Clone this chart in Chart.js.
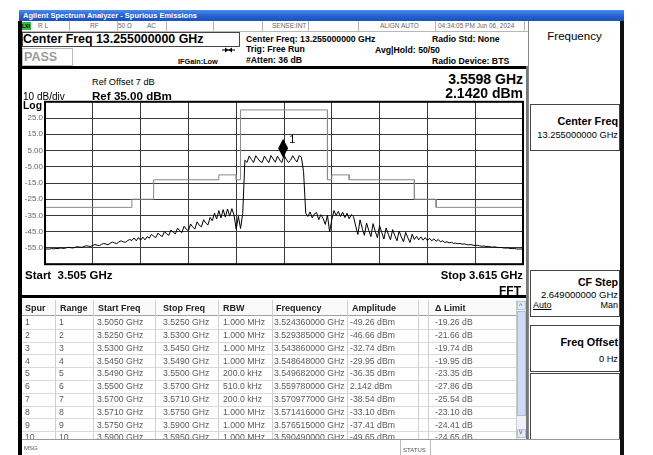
<!DOCTYPE html>
<html>
<head>
<meta charset="utf-8">
<script src="https://cdn.jsdelivr.net/npm/chart.js@4.4.1/dist/chart.umd.min.js"></script>
<style>
html,body{margin:0;padding:0;}
body{width:653px;height:455px;position:relative;overflow:hidden;background:#fff;font-family:"Liberation Sans",Arial,sans-serif;color:#000;}
.a{position:absolute;white-space:nowrap;line-height:1;}
.b{font-weight:bold;}
.r{text-align:right;}
.bx{position:absolute;box-sizing:border-box;}
.ln{position:absolute;}
</style>
</head>
<body>
<!-- window chrome -->
<div class="bx" style="left:19px;top:10px;width:605px;height:11px;background:linear-gradient(#4d8bec,#2260d2 55%,#1b52bd);"></div>
<div class="a b" style="left:23px;top:11.8px;font-size:7.5px;color:#fff;">Agilent Spectrum Analyzer - Spurious Emissions</div>

<!-- status row -->
<div class="bx" style="left:19px;top:21px;width:509px;height:11px;background:#fff;border-bottom:1px solid #b8b8b8;"></div>
<div class="bx" style="left:21px;top:22px;width:10px;height:8px;background:#39b54a;"></div>
<div class="a b" style="left:22px;top:23.5px;font-size:5px;color:#000;">LXI</div>
<div class="a" style="left:38px;top:22.8px;font-size:6.5px;color:#666;">R L</div>
<div class="a" style="left:90px;top:22.8px;font-size:6.5px;color:#666;">RF</div>
<div class="a" style="left:118px;top:22.8px;font-size:6.5px;color:#666;">50 Ω</div>
<div class="a" style="left:147px;top:22.8px;font-size:6.5px;color:#666;">AC</div>
<div class="a" style="left:272px;top:22.8px;font-size:6.5px;color:#666;">SENSE:INT</div>
<div class="a" style="left:380px;top:22.8px;font-size:6.5px;color:#666;">ALIGN AUTO</div>
<div class="a" style="left:438px;top:22.8px;font-size:6.5px;color:#666;">04:34:05 PM Jun 06, 2024</div>
<div class="ln" style="left:69px;top:21px;width:1px;height:10px;background:#b8b8b8;"></div>
<div class="ln" style="left:117px;top:21px;width:1px;height:10px;background:#b8b8b8;"></div>
<div class="ln" style="left:166px;top:21px;width:1px;height:10px;background:#b8b8b8;"></div>
<div class="ln" style="left:213px;top:21px;width:1px;height:10px;background:#b8b8b8;"></div>
<div class="ln" style="left:262px;top:21px;width:1px;height:10px;background:#b8b8b8;"></div>
<div class="ln" style="left:308px;top:21px;width:1px;height:10px;background:#b8b8b8;"></div>
<div class="ln" style="left:358px;top:21px;width:1px;height:10px;background:#b8b8b8;"></div>
<div class="ln" style="left:435px;top:21px;width:1px;height:10px;background:#b8b8b8;"></div>
<div class="ln" style="left:524px;top:21px;width:1px;height:10px;background:#b8b8b8;"></div>

<!-- header -->
<div class="bx" style="left:22px;top:32px;width:218px;height:15px;border:1px solid #444;"></div>
<div class="a b" style="left:23px;top:33.3px;font-size:12.4px;">Center Freq 13.255000000 GHz</div>
<div class="bx" style="left:22px;top:48px;width:51px;height:18px;border:1px solid #bbb;"></div>
<div class="a b" style="left:24px;top:51.3px;font-size:12.5px;color:#9a9a9a;">PASS</div>
<div class="a b" style="left:178px;top:58.4px;font-size:7.3px;">IFGain:Low</div>
<svg style="position:absolute;left:222px;top:46px;" width="13" height="8"><line x1="0" y1="4" x2="13" y2="4" stroke="#000" stroke-width="1"/><path d="M3,1.5 L6.5,4 L3,6.5 Z M10,1.5 L6.5,4 L10,6.5 Z" fill="#000"/></svg>
<div class="a b" style="left:246px;top:35.2px;font-size:8.7px;">Center Freq: 13.255000000 GHz</div>
<div class="a b" style="left:246px;top:45.2px;font-size:8.7px;">Trig: Free Run</div>
<div class="a b" style="left:246px;top:55.7px;font-size:8.7px;">#Atten: 36 dB</div>
<div class="a b" style="left:375px;top:45.7px;font-size:8.7px;">Avg|Hold: 50/50</div>
<div class="a b" style="left:432px;top:35.2px;font-size:8.7px;">Radio Std: None</div>
<div class="a b" style="left:432px;top:56.7px;font-size:8.7px;">Radio Device: BTS</div>

<!-- main frame -->
<div class="ln" style="left:18px;top:21px;width:4px;height:434px;background:#000;"></div>
<div class="ln" style="left:18px;top:66px;width:510px;height:3px;background:#000;"></div>
<div class="ln" style="left:18px;top:295px;width:510px;height:3px;background:#000;"></div>
<div class="ln" style="left:526px;top:66px;width:2px;height:374px;background:#777;"></div>

<!-- right panel -->
<div class="bx" style="left:528px;top:21px;width:96px;height:434px;border-left:1px solid #888;border-right:4px solid #111;background:#fff;"></div>
<div class="a" style="left:529px;width:91px;text-align:center;top:31.3px;font-size:11.5px;">Frequency</div>
<div class="bx" style="left:530px;top:104px;width:90px;height:47px;border:1px solid #444;"></div>
<div class="a b r" style="right:35px;top:115.6px;font-size:10.8px;">Center Freq</div>
<div class="a r" style="right:35px;top:131.4px;font-size:9.3px;">13.255000000 GHz</div>
<div class="bx" style="left:530px;top:270px;width:90px;height:47px;border:1px solid #444;"></div>
<div class="a b r" style="right:35px;top:277.2px;font-size:10.6px;">CF Step</div>
<div class="a r" style="right:35px;top:290.3px;font-size:9.5px;">2.649000000 GHz</div>
<div class="a" style="left:533px;top:301px;font-size:9px;text-decoration:underline;">Auto</div>
<div class="a r" style="right:35px;top:301px;font-size:9px;">Man</div>
<div class="bx" style="left:530px;top:325px;width:90px;height:47px;border:1px solid #444;"></div>
<div class="a b r" style="right:35px;top:336.6px;font-size:10.8px;">Freq Offset</div>
<div class="a r" style="right:35px;top:355.4px;font-size:9.3px;">0 Hz</div>
<div class="bx" style="left:530px;top:373px;width:90px;height:67px;border:1px solid #444;"></div>

<!-- chart -->
<canvas id="c" width="504" height="176" style="position:absolute;left:22px;top:95px;"></canvas>

<!-- plot annotations -->
<div class="a" style="left:92px;top:78.4px;font-size:9.2px;">Ref Offset 7 dB</div>
<div class="a b" style="left:92px;top:89.7px;font-size:11.6px;">Ref 35.00 dBm</div>
<div class="a" style="left:23px;top:91.5px;font-size:10px;">10 dB/div</div>
<div class="a b" style="left:23px;top:100.8px;font-size:10.4px;">Log</div>
<div class="a b r" style="right:130px;top:72px;font-size:14px;">3.5598 GHz</div>
<div class="a b r" style="right:130px;top:85.5px;font-size:14px;">2.1420 dBm</div>
<div class="a b" style="left:25px;top:270.3px;font-size:11.5px;">Start&nbsp; 3.505 GHz</div>
<div class="a b r" style="right:130px;top:270.4px;font-size:11.3px;">Stop 3.615 GHz</div>
<div class="a b r" style="right:132px;top:285px;font-size:12px;">FFT</div>

<!-- spur table -->
<div id="tbl" class="bx" style="left:22px;top:300px;width:504px;height:139px;overflow:hidden;"></div>

<!-- message bar -->
<div class="bx" style="left:22px;top:439px;width:598px;height:16px;border-top:1px solid #999;background:#fff;"></div>
<div class="a" style="left:24px;top:445px;font-size:6px;color:#555;">MSG</div>
<div class="ln" style="left:400px;top:440px;width:1px;height:15px;background:#bbb;"></div>
<div class="ln" style="left:430px;top:440px;width:1px;height:15px;background:#bbb;"></div>
<div class="a" style="left:403px;top:447px;font-size:6px;color:#555;">STATUS</div>

<script>
// ---------------- data ----------------
const sweepStartGHz = 3.505;
const sweepStopGHz = 3.615;
// trace amplitude (dBm), evenly spaced sweep points from start to stop
const traceAmp = [
  // 3.505 - 3.525
  -55.8,-55.6,-55.7,-55.4,-55.5,-55.3,-55.4,-55.0,-55.2,-55.3,
  -54.8,-54.6,-54.9,-55.0,-54.5,-54.2,-54.5,-54.6,-54.1,-53.6,
  -53.9,-54.1,-53.4,-52.9,-53.3,-53.6,-52.8,-52.2,-52.6,-53.0,
  -52.1,-51.4,-51.9,-52.3,-51.3,-50.6,-51.2,-51.5,-50.5,-49.8,
  -50.4,
  // dense
  -48.8,-50.6,-48.6,-50.3,-48.3,-50.0,-48.0,
  // ripples rising
  -49.0,-46.6,-47.8,-48.6,-45.8,-47.2,-48.0,-44.8,-46.3,-47.2,
  -43.9,-45.4,-46.4,-42.8,-44.4,-45.5,-41.6,-43.4,-44.4,-40.2,
  -42.2,-43.3,-38.9,-41.0,-42.0,-37.6,-39.7,-40.8,-36.2,-38.3,
  // dense near channel
  -33.5,-37.2,-32.0,-36.5,-31.4,-36.0,-31.0,-35.4,-30.8,-34.8,
  -43.5,-35.5,-43.0,-33.8,
  // channel
  -1.0,-2.3,1.7,-0.5,-2.4,1.8,0.0,-1.8,-2.3,1.6,
  -0.6,-2.5,1.9,-0.2,-2.2,1.5,-0.8,-2.4,2.14,-0.3,
  -2.3,-1.0,1.8,-0.4,-2.1,1.9,0.8,-8.0,
  // upper adjacent
  -33.6,-35.6,-32.8,-36.5,-34.0,-33.2,-37.6,-34.5,-36.8,-40.5,-34.8,
  -45.2,-37.5,-32.0,
  -35.0,-32.5,-35.6,-33.0,-36.3,-33.6,-37.0,-34.5,
  // falling ripples
  -35.7,-41.5,-46.7,-37.7,-42.8,-47.2,-39.7,-44.2,-48.0,-40.0,
  -44.8,-48.7,-41.2,-45.6,-49.5,-42.7,-46.5,-50.0,-43.7,-47.4,
  -50.6,-44.6,-48.2,-51.2,-45.4,-48.8,-51.6,-46.5,
  // dense tail
  -49.8,-47.8,-50.0,-48.2,-50.2,-48.6,-50.4,-49.0,-50.6,-49.4,-50.9,-49.8,-51.2,
  // floor
  -50.6,-51.6,-51.2,-51.9,-51.5,-52.2,-52.0,-52.4,-52.2,-52.7,
  -52.5,-52.9,-53.1,-52.9,-53.3,-53.5,-53.3,-53.7,-53.9,-53.8,
  -54.1,-54.0,-54.3,-54.5,-54.3,-54.6,-54.8,-54.7,-55.0,-55.1,
  -55.0,-55.3,-55.4,-55.3,-55.6,-55.7,-55.6,-55.8
];
const limitStartGHz = [3.505,3.525,3.530,3.545,3.549,3.550,3.570,3.571,3.575,3.590,3.595];
const limitStopGHz  = [3.525,3.530,3.545,3.549,3.550,3.570,3.571,3.575,3.590,3.595,3.615];
const limitLevelDbm = [-30,-25,-13,-10,-13,30,-13,-10,-13,-25,-30];
const markerFreqGHz = 3.5598;
const markerAmpDbm = 2.142;
const refLevelDbm = 35;
const dbPerDiv = 10;
const yTickLabels = ["25.0","15.0","5.00","-5.00","-15.0","-25.0","-35.0","-45.0","-55.0"];

const spurNo    = ["1","2","3","4","5","6","7","8","9","10"];
const spurRange = ["1","2","3","4","5","6","7","8","9","10"];
const spurStart = ["3.5050 GHz","3.5250 GHz","3.5300 GHz","3.5450 GHz","3.5490 GHz","3.5500 GHz","3.5700 GHz","3.5710 GHz","3.5750 GHz","3.5900 GHz"];
const spurStop  = ["3.5250 GHz","3.5300 GHz","3.5450 GHz","3.5490 GHz","3.5500 GHz","3.5700 GHz","3.5710 GHz","3.5750 GHz","3.5900 GHz","3.5950 GHz"];
const spurRbw   = ["1.000 MHz","1.000 MHz","1.000 MHz","1.000 MHz","200.0 kHz","510.0 kHz","200.0 kHz","1.000 MHz","1.000 MHz","1.000 MHz"];
const spurFreq  = ["3.524360000 GHz","3.529385000 GHz","3.543860000 GHz","3.548648000 GHz","3.549682000 GHz","3.559780000 GHz","3.570977000 GHz","3.571416000 GHz","3.576515000 GHz","3.590490000 GHz"];
const spurAmp   = ["-49.26 dBm","-46.66 dBm","-32.74 dBm","-29.95 dBm","-36.35 dBm","2.142 dBm","-38.54 dBm","-33.10 dBm","-37.41 dBm","-49.65 dBm"];
const spurDelta = ["-19.26 dB","-21.66 dB","-19.74 dB","-19.95 dB","-23.35 dB","-27.86 dB","-25.54 dB","-23.10 dB","-24.41 dB","-24.65 dB"];
const tableHeaders = ["Spur","Range","Start Freq","Stop Freq","RBW","Frequency","Amplitude","Δ Limit"];

// ---------------- table ----------------
(function(){
  const t = document.getElementById('tbl');
  const ox = 22;
  const hdrX = [25,60,98,163,223,276,352,435];
  const cellX = [25,59,97,163,223,274,350,435];
  const sepX = [55,93,155,218,272,347,418,428];
  const hdrH = 16, rowH = 12.8, fs = 8.7;
  const cols = [spurNo,spurRange,spurStart,spurStop,spurRbw,spurFreq,spurAmp,spurDelta];
  let html = '<div class="ln" style="left:0;top:0;width:494px;height:'+hdrH+'px;background:#fafafa;border-bottom:1px solid #a0a0a0;box-sizing:border-box;"></div>';
  sepX.forEach(x=>{ html += '<div class="ln" style="left:'+(x-ox)+'px;top:0;width:1px;height:139px;background:#cfcfcf;"></div>'; });
  for(let r=0;r<spurNo.length;r++){
    const top = hdrH + (r+1)*rowH;
    html += '<div class="ln" style="left:0;top:'+top.toFixed(1)+'px;width:494px;height:1px;background:#dadada;"></div>';
  }
  tableHeaders.forEach((h,c)=>{
    html += '<div class="a b" style="left:'+(hdrX[c]-ox)+'px;top:'+(8-4.5)+'px;font-size:9px;color:#222;">'+h+'</div>';
  });
  for(let r=0;r<spurNo.length;r++){
    const cy = hdrH + r*rowH + rowH/2;
    cols.forEach((arr,c)=>{
      html += '<div class="a" style="left:'+(cellX[c]-ox)+'px;top:'+(cy-fs/2).toFixed(1)+'px;font-size:'+fs+'px;color:#5a5a5a;">'+arr[r]+'</div>';
    });
  }
  // scrollbar
  html += '<div class="ln" style="left:494px;top:0;width:10px;height:139px;background:#eef1f6;border-left:1px solid #c8c8c8;box-sizing:border-box;"></div>';
  html += '<div class="ln" style="left:495px;top:1px;width:9px;height:9px;background:#dfe8f7;border:1px solid #b6c6e0;box-sizing:border-box;"></div>';
  html += '<div class="a" style="left:497px;top:2px;font-size:7px;color:#4a5f8a;">^</div>';
  html += '<div class="ln" style="left:495px;top:11px;width:9px;height:105px;background:#cddcf4;border:1px solid #a8bde0;box-sizing:border-box;"></div>';
  html += '<div class="ln" style="left:495px;top:129px;width:9px;height:9px;background:#dfe8f7;border:1px solid #b6c6e0;box-sizing:border-box;"></div>';
  html += '<div class="a" style="left:497px;top:128px;font-size:7px;color:#4a5f8a;">v</div>';
  t.innerHTML = html;
})();

// ---------------- chart ----------------
const nPts = traceAmp.length;
const traceData = traceAmp.map((v,i)=>({x: sweepStartGHz + (sweepStopGHz - sweepStartGHz) * i / (nPts - 1), y: v}));
const limitData = [];
limitStartGHz.forEach((s,k)=>{
  limitData.push({x:s, y:limitLevelDbm[k]});
  limitData.push({x:limitStopGHz[k], y:limitLevelDbm[k]});
});
const yMax = refLevelDbm, yMin = refLevelDbm - 10*dbPerDiv;

const framePlugin = {
  id:'frame',
  afterDraw(chart){
    const {ctx, chartArea:a, scales} = chart;
    ctx.save();
    ctx.strokeStyle = '#000';
    ctx.lineWidth = 2;
    ctx.strokeRect(a.left, a.top, a.right - a.left, a.bottom - a.top);
    const px = scales.x.getPixelForValue(markerFreqGHz);
    const py = scales.y.getPixelForValue(markerAmpDbm);
    const cy = py - 7;
    ctx.fillStyle = '#000';
    ctx.beginPath();
    ctx.moveTo(px, cy - 9.5);
    ctx.lineTo(px + 5, cy);
    ctx.lineTo(px, cy + 9.5);
    ctx.lineTo(px - 5, cy);
    ctx.closePath();
    ctx.fill();
    ctx.font = '11px "Liberation Sans", Arial, sans-serif';
    ctx.textBaseline = 'alphabetic';
    ctx.fillText('1', px + 6, py - 12);
    ctx.restore();
  }
};

new Chart(document.getElementById('c'), {
  type:'line',
  data:{
    datasets:[
      {data:limitData, borderColor:'#8a8a8a', borderWidth:1, pointRadius:0, tension:0, fill:false},
      {data:traceData, borderColor:'#000', borderWidth:1, pointRadius:0, tension:0, fill:false}
    ]
  },
  options:{
    responsive:false,
    animation:false,
    devicePixelRatio:1,
    layout:{padding:{top:6,right:3,bottom:4,left:0}},
    plugins:{legend:{display:false}, tooltip:{enabled:false}},
    scales:{
      x:{
        type:'linear', min:sweepStartGHz, max:sweepStopGHz,
        afterBuildTicks(s){ const t=[]; for(let i=0;i<=10;i++) t.push({value: s.min + (s.max - s.min)*i/10}); s.ticks = t; },
        afterFit(s){ s.height = 0; },
        ticks:{display:false},
        grid:{color:'#3a3a3a', lineWidth:1, drawTicks:false},
        border:{display:false}
      },
      y:{
        type:'linear', min:yMin, max:yMax,
        afterBuildTicks(s){ const t=[]; for(let v=yMax; v>=yMin; v-=dbPerDiv) t.push({value:v}); s.ticks = t; },
        afterFit(s){ s.width = 23; },
        ticks:{
          padding:2,
          color:'#666',
          font:{family:'"Liberation Sans", Arial, sans-serif', size:8},
          callback(v){ const k = Math.round((yMax - v)/dbPerDiv) - 1; return (k>=0 && k<yTickLabels.length) ? yTickLabels[k] : ''; }
        },
        grid:{color:'#3a3a3a', lineWidth:1, drawTicks:false},
        border:{display:false}
      }
    }
  },
  plugins:[framePlugin]
});
</script>
</body>
</html>
